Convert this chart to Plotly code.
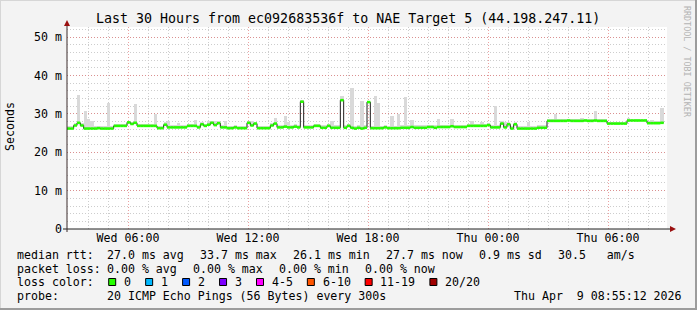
import plotly.graph_objects as go
from datetime import datetime, timedelta

# ---------------- data ----------------
start_time = datetime(2026, 4, 8, 2, 57)
step_minutes = 10

median_ms = [
    26.2, 26.2, 27.0, 27.7, 27.0, 26.2, 26.2, 26.2, 26.2, 26.3,
    26.2, 26.2, 26.2, 26.2, 26.9, 26.9, 26.9, 26.9, 27.8, 27.4,
    27.7, 26.9, 26.9, 26.9, 26.9, 26.9, 26.9, 26.3, 26.3, 27.2,
    26.5, 26.5, 26.5, 26.5, 26.5, 26.5, 26.9, 26.9, 26.9, 26.5,
    27.3, 26.9, 27.2, 27.7, 27.1, 27.6, 26.5, 26.5, 26.3, 26.3,
    26.5, 26.3, 26.3, 26.3, 27.7, 27.0, 27.5, 26.3, 26.3, 26.3,
    26.3, 27.0, 27.5, 26.5, 26.5, 26.7, 26.5, 26.5, 26.7, 26.5,
    33.2, 26.5, 26.5, 26.5, 26.9, 26.9, 26.4, 26.4, 26.9, 26.4,
    26.4, 26.4, 33.6, 26.4, 26.9, 26.4, 26.2, 26.4, 26.2, 26.4,
    33.1, 26.3, 26.3, 26.3, 26.3, 26.5, 26.3, 26.3, 26.3, 26.3,
    26.4, 26.4, 26.4, 26.6, 26.4, 26.4, 26.4, 26.4, 26.6, 26.6,
    26.4, 26.6, 26.6, 26.6, 26.6, 26.8, 26.6, 26.6, 26.6, 26.6,
    26.9, 26.9, 26.9, 26.9, 26.9, 26.9, 27.1, 26.5, 26.5, 26.5,
    27.5, 26.5, 27.3, 26.2, 27.3, 26.2, 26.2, 26.2, 26.2, 26.2,
    26.2, 26.4, 26.4, 26.4, 28.2, 28.2, 28.2, 28.2, 28.2, 28.2,
    28.3, 28.2, 28.2, 28.2, 28.2, 28.3, 28.2, 28.2, 28.3, 28.2,
    28.2, 28.2, 27.5, 27.5, 27.5, 27.5, 27.5, 27.5, 28.3, 28.3,
    28.3, 28.3, 28.3, 28.3, 27.6, 27.6, 27.6, 27.6, 27.7,
]

smoke_max_ms = [
    26.8, 26.8, 27.6, 35.0, 27.6, 30.7, 28.6, 28.2, 26.8, 26.9,
    26.8, 26.8, 32.9, 26.8, 27.5, 27.5, 27.5, 27.5, 28.3, 28.0,
    32.5, 27.5, 27.5, 27.5, 27.5, 27.5, 29.9, 26.9, 26.9, 27.8,
    28.1, 27.1, 27.1, 27.6, 27.1, 27.1, 27.5, 27.5, 28.5, 27.1,
    27.9, 27.5, 28.2, 28.3, 28.2, 28.2, 27.1, 28.2, 26.9, 26.9,
    27.1, 26.9, 26.9, 26.9, 28.3, 28.2, 28.0, 26.9, 26.9, 26.9,
    26.9, 27.6, 29.0, 27.1, 27.1, 29.4, 28.0, 27.1, 27.3, 27.1,
    33.6, 27.1, 27.1, 27.1, 27.5, 27.5, 27.0, 27.0, 27.5, 28.2,
    27.0, 27.0, 34.6, 27.0, 27.5, 36.8, 26.8, 27.0, 33.3, 27.0,
    33.5, 26.9, 34.6, 32.9, 26.9, 27.1, 26.9, 29.4, 26.9, 30.0,
    27.0, 34.4, 27.0, 28.5, 27.0, 27.0, 27.0, 27.0, 27.2, 27.2,
    27.0, 28.6, 27.2, 27.2, 27.2, 28.6, 27.2, 27.2, 27.2, 27.2,
    27.5, 28.2, 27.5, 27.5, 28.0, 27.5, 27.7, 27.1, 32.0, 27.1,
    28.1, 28.0, 27.9, 26.8, 28.0, 26.8, 26.8, 26.8, 28.0, 26.8,
    26.8, 27.0, 27.0, 27.0, 28.7, 28.7, 29.9, 28.7, 28.7, 28.7,
    28.8, 28.7, 28.7, 28.7, 29.0, 28.8, 28.7, 28.7, 30.7, 28.7,
    28.7, 28.7, 28.0, 28.0, 28.0, 28.0, 28.0, 28.0, 29.0, 28.8,
    28.8, 28.8, 28.8, 28.8, 28.1, 28.5, 28.1, 28.1, 31.6,
]

y_tick_values = [0, 10, 20, 30, 40, 50]
y_tick_labels = ["0", "10 m", "20 m", "30 m", "40 m", "50 m"]

title_text = "Last 30 Hours from ec092683536f to NAE Target 5 (44.198.247.11)"
rtt_items = ["median rtt:", "27.0 ms avg", "33.7 ms max", "26.1 ms min",
             "27.7 ms now", "0.9 ms sd", "30.5   am/s"]
loss_items = ["packet loss:", "0.00 % avg", "0.00 % max", "0.00 % min", "0.00 % now"]
loss_labels = ["0", "1", "2", "3", "4-5", "6-10", "11-19", "20/20"]
loss_colors = ["#26ff00", "#00b8ff", "#0059ff", "#7e00ff", "#ff00ff",
               "#ff5500", "#ff0000", "#a00000"]
probe_items = ["probe:", "20 ICMP Echo Pings (56 Bytes) every 300s",
               "Thu Apr  9 08:55:12 2026"]

# ---------------- layout helpers ----------------
FIG_W, FIG_H = 697, 310
L, R, T, B = 67, 667, 27, 229
PW, PH = R - L, B - T


def px(xp):
    return (xp - L) / PW


def py(yp):
    return (B - yp) / PH


MONO = "DejaVu Sans Mono"
FS = 11.6
CW = 6.95

step = timedelta(minutes=step_minutes)
times = [start_time + i * step for i in range(len(median_ms))]
centers = [t + step / 2 for t in times]

fig = go.Figure()

# smoke
fig.add_trace(go.Bar(
    x=centers, y=[s - m for s, m in zip(smoke_max_ms, median_ms)], base=median_ms,
    width=step.total_seconds() * 1000, marker=dict(color="#d9d9d9", line=dict(width=0)),
    hoverinfo="skip"))

# black median (with vertical connectors)
fig.add_trace(go.Scatter(
    x=times + [times[-1] + step], y=median_ms + [median_ms[-1]],
    mode="lines", line=dict(color="#202020", width=1, shape="hv"), hoverinfo="skip"))

# green horizontal median segments (loss colour 0)
gx, gy = [], []
for t, v in zip(times, median_ms):
    gx += [t, t + step, None]
    gy += [v, v, None]
fig.add_trace(go.Scatter(x=gx, y=gy, mode="lines",
                         line=dict(color=loss_colors[0], width=2.6), hoverinfo="skip"))

grid_dash = "1px,2px"
fig.update_xaxes(
    type="date", range=[start_time, start_time + timedelta(hours=30)],
    tickformat="%a %H:%M", dtick=6 * 3600 * 1000, tick0="2026-04-08 00:00",
    showgrid=True, gridcolor="rgba(225,110,110,0.65)", griddash=grid_dash, gridwidth=1,
    minor=dict(dtick=3600 * 1000, showgrid=True, gridcolor="#cdcdcd", griddash=grid_dash),
    ticks="", zeroline=False, showline=False,
    tickfont=dict(family=MONO, size=FS, color="#000"))
fig.update_yaxes(
    range=[0, PH / 3.834], tickvals=y_tick_values, ticktext=y_tick_labels,
    showgrid=True, gridcolor="rgba(225,110,110,0.65)", griddash=grid_dash, gridwidth=1,
    minor=dict(dtick=2, showgrid=True, gridcolor="#cdcdcd", griddash=grid_dash),
    ticks="", zeroline=False, showline=False, ticklabelstandoff=4,
    tickfont=dict(family=MONO, size=FS, color="#000"))

shapes = []
# axes
shapes.append(dict(type="line", xref="paper", yref="paper", x0=px(63), x1=px(672),
                   y0=py(B), y1=py(B), line=dict(color="#202020", width=1)))
shapes.append(dict(type="line", xref="paper", yref="paper", x0=px(L), x1=px(L),
                   y0=py(232), y1=py(23), line=dict(color="#3a2a2a", width=1)))
shapes.append(dict(type="path", xref="paper", yref="paper",
                   path=f"M {px(670)} {py(B-3)} L {px(676)} {py(B)} L {px(670)} {py(B+3)} Z",
                   fillcolor="#9a1010", line=dict(width=0)))
shapes.append(dict(type="path", xref="paper", yref="paper",
                   path=f"M {px(L-3)} {py(26)} L {px(L)} {py(20)} L {px(L+3)} {py(26)} Z",
                   fillcolor="#9a1010", line=dict(width=0)))
# 3D frame
shapes.append(dict(type="line", xref="paper", yref="paper", x0=px(0), x1=px(FIG_W),
                   y0=py(0.5), y1=py(0.5), line=dict(color="#d6d6d6", width=1)))
shapes.append(dict(type="line", xref="paper", yref="paper", x0=px(0.5), x1=px(0.5),
                   y0=py(0), y1=py(FIG_H), line=dict(color="#d6d6d6", width=1)))
shapes.append(dict(type="line", xref="paper", yref="paper", x0=px(FIG_W - 1), x1=px(FIG_W - 1),
                   y0=py(0), y1=py(FIG_H), line=dict(color="#9c9c9c", width=2)))
shapes.append(dict(type="line", xref="paper", yref="paper", x0=px(0), x1=px(FIG_W),
                   y0=py(FIG_H - 1), y1=py(FIG_H - 1), line=dict(color="#9c9c9c", width=2)))

annotations = []


def text(s, x, y, size=FS, anchor="left", color="#000", angle=0):
    annotations.append(dict(text=s, x=px(x), y=py(y), xref="paper", yref="paper",
                            xanchor=anchor, yanchor="middle", showarrow=False,
                            textangle=angle, borderpad=0, borderwidth=0,
                            font=dict(family=MONO, size=size, color=color)))


text(title_text, 347.5, 19, size=13.3, anchor="center")
text("Seconds", 10, 127, angle=-90, anchor="center")
text("RRDTOOL / TOBI OETIKER", 687, 62, size=8.4, anchor="center", color="#b4b4b4", angle=90)

row_y = [255.5, 268.5, 282, 296]
for s, x in zip(rtt_items, [16.7, 107.3, 200, 292.7, 386, 479.3, 558.3]):
    text(s, x, row_y[0])
for s, x in zip(loss_items, [16.7, 107.3, 193.3, 279.3, 365]):
    text(s, x, row_y[1])
text("loss color:", 16.7, row_y[2])
bx = 108.7
for lab, col in zip(loss_labels, loss_colors):
    shapes.append(dict(type="rect", xref="paper", yref="paper",
                       x0=px(bx), x1=px(bx + 7), y0=py(row_y[2] - 3.5), y1=py(row_y[2] + 3.5),
                       fillcolor=col, line=dict(color="#000", width=1)))
    text(lab, bx + 15.3, row_y[2])
    bx += 30 + len(lab) * CW
for s, x in zip(probe_items, [16.7, 107.3, 514.3]):
    text(s, x, row_y[3])

fig.update_layout(
    width=FIG_W, height=FIG_H, margin=dict(l=L, r=FIG_W - R, t=T, b=FIG_H - B),
    paper_bgcolor="#f3f3f3", plot_bgcolor="#ffffff", showlegend=False,
    bargap=0, barmode="overlay", shapes=shapes, annotations=annotations)

fig.write_html("out.html")
